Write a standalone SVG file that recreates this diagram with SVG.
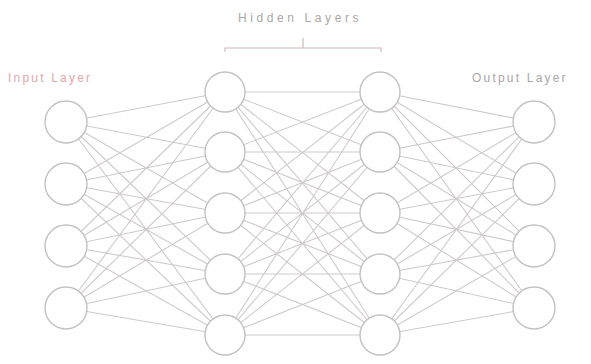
<svg xmlns="http://www.w3.org/2000/svg" width="591" height="364" viewBox="0 0 591 364">
<style>
.bg{fill:#ffffff}
.edge{stroke:#cfcaca;stroke-width:1.1;fill:none}
.node{fill:#ffffff;stroke:#c4c0c0;stroke-width:1.4}
.lbl{font-family:"Liberation Sans",Arial,sans-serif;font-size:12px;fill:#aaa6a6;letter-spacing:2.2px}
.wide{letter-spacing:3.6px}
.in{fill:#e2a8a8}
.br{stroke:#cdb8b8;stroke-width:1.2;fill:none}
</style>
<rect class="bg" x="0" y="0" width="591" height="364"/>
<g id="connectors">
<path class="edge" d="M66 122L225 92M66 122L225 152M66 122L225 213M66 122L225 274M66 122L225 335
M66 184L225 92M66 184L225 152M66 184L225 213M66 184L225 274M66 184L225 335
M66 246L225 92M66 246L225 152M66 246L225 213M66 246L225 274M66 246L225 335
M66 308L225 92M66 308L225 152M66 308L225 213M66 308L225 274M66 308L225 335"/>
<path class="edge" d="M225 92L380 92M225 92L380 152M225 92L380 213M225 92L380 274M225 92L380 335
M225 152L380 92M225 152L380 152M225 152L380 213M225 152L380 274M225 152L380 335
M225 213L380 92M225 213L380 152M225 213L380 213M225 213L380 274M225 213L380 335
M225 274L380 92M225 274L380 152M225 274L380 213M225 274L380 274M225 274L380 335
M225 335L380 92M225 335L380 152M225 335L380 213M225 335L380 274M225 335L380 335"/>
<path class="edge" d="M380 92L534 122M380 92L534 184M380 92L534 246M380 92L534 308
M380 152L534 122M380 152L534 184M380 152L534 246M380 152L534 308
M380 213L534 122M380 213L534 184M380 213L534 246M380 213L534 308
M380 274L534 122M380 274L534 184M380 274L534 246M380 274L534 308
M380 335L534 122M380 335L534 184M380 335L534 246M380 335L534 308"/>
</g>
<g id="bracket">
<path class="br" d="M225 52V48H381V52M303 48V38"/>
</g>
<g id="labels">
<text class="lbl wide" x="238" y="22">Hidden Layers</text>
<text class="lbl in" x="8" y="82">Input Layer</text>
<text class="lbl" x="472" y="82">Output Layer</text>
</g>
<g id="input-1"><circle class="node" cx="66" cy="122" r="21"/></g>
<g id="input-2"><circle class="node" cx="66" cy="184" r="21"/></g>
<g id="input-3"><circle class="node" cx="66" cy="246" r="21"/></g>
<g id="input-4"><circle class="node" cx="66" cy="308" r="21"/></g>
<g id="hidden1-1"><circle class="node" cx="225" cy="92" r="20"/></g>
<g id="hidden1-2"><circle class="node" cx="225" cy="152" r="20"/></g>
<g id="hidden1-3"><circle class="node" cx="225" cy="213" r="20"/></g>
<g id="hidden1-4"><circle class="node" cx="225" cy="274" r="20"/></g>
<g id="hidden1-5"><circle class="node" cx="225" cy="335" r="20"/></g>
<g id="hidden2-1"><circle class="node" cx="380" cy="92" r="20"/></g>
<g id="hidden2-2"><circle class="node" cx="380" cy="152" r="20"/></g>
<g id="hidden2-3"><circle class="node" cx="380" cy="213" r="20"/></g>
<g id="hidden2-4"><circle class="node" cx="380" cy="274" r="20"/></g>
<g id="hidden2-5"><circle class="node" cx="380" cy="335" r="20"/></g>
<g id="output-1"><circle class="node" cx="534" cy="122" r="21"/></g>
<g id="output-2"><circle class="node" cx="534" cy="184" r="21"/></g>
<g id="output-3"><circle class="node" cx="534" cy="246" r="21"/></g>
<g id="output-4"><circle class="node" cx="534" cy="308" r="21"/></g>
</svg>
